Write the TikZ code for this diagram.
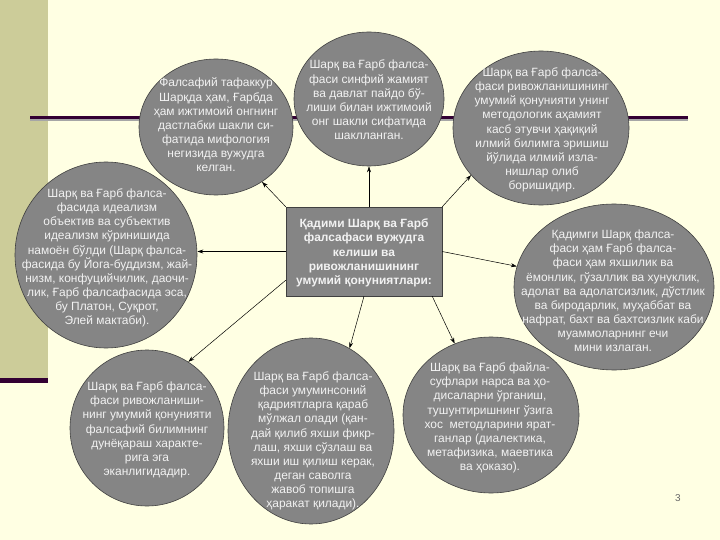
\documentclass[tikz,border=0pt]{standalone}
\usepackage{fontspec}
\setmainfont{Liberation Sans}
\usetikzlibrary{shapes.geometric}
\usetikzlibrary{arrows.meta}

\definecolor{slidebg}{HTML}{FFFFE3}
\definecolor{bandolive}{HTML}{CCCC99}
\definecolor{rulepurple}{HTML}{330033}
\definecolor{ballgray}{HTML}{858585}
\definecolor{balltext}{HTML}{F2F2F2}

\tikzset{
  idea/.style={ellipse, draw=black!75, line width=0.6bp, fill=ballgray, inner sep=0pt},
  ideatext/.style={text=balltext, align=center, inner sep=0pt, font=\fontsize{12}{14.2}\selectfont},
  link/.style={-{Stealth[length=6bp,width=4bp]}, line width=0.5bp, black}
}

\begin{document}
\begin{tikzpicture}[x=1bp, y=-1bp]
      \useasboundingbox (0,0) rectangle (720,540);
      \fill[slidebg] (0,0) rectangle (720,540);
      \fill[bandolive] (0,0) rectangle (48,378);
      \fill[rulepurple] (0,378) rectangle (48,383);
      \fill[black!35] (30,119) rectangle (688,121);
      \fill[rulepurple] (30,116) rectangle (688,119);

      % ellipses
      \node[idea, minimum width=154bp, minimum height=136bp] (tl) at (216,127) {};
      \node[idea, minimum width=150bp, minimum height=134bp] (tc) at (369,99) {};
      \node[idea, minimum width=176bp, minimum height=154bp] (tr) at (541,128) {};
      \node[idea, minimum width=182bp, minimum height=186bp] (ml) at (106,255) {};
      \node[idea, minimum width=200bp, minimum height=166bp] (mr) at (614,287) {};
      \node[idea, minimum width=154bp, minimum height=156bp] (bl) at (147,428) {};
      \node[idea, minimum width=166bp, minimum height=186bp] (bc) at (311,431) {};
      \node[idea, minimum width=176bp, minimum height=156bp] (br) at (491,415) {};
      \draw[black!75, line width=0.6bp, fill=ballgray] (286,207) rectangle (442,296);
      \coordinate (rect) at (364,251.5);
      \node[minimum width=156bp, minimum height=89bp, inner sep=0pt] (laws) at (rect) {};

      % texts
      \node[ideatext] (tltext) at (216,125) {Фалсафий тафаккур\\Шарқда ҳам, Ғарбда\\ҳам ижтимоий онгнинг\\дастлабки шакли си-\\фатида мифология\\негизида вужудга\\келган.};
      \node[ideatext] (tctext) at (369,100) {Шарқ ва Ғарб фалса-\\фаси синфий жамият\\ва давлат пайдо бў-\\лиши билан ижтимоий\\онг шакли сифатида\\шаклланган.};
      \node[ideatext] (trtext) at (542,130) {Шарқ ва Ғарб фалса-\\фаси ривожланишининг\\умумий қонунияти унинг\\методологик аҳамият\\касб этувчи ҳақиқий\\илмий билимга эришиш\\йўлида илмий изла-\\нишлар олиб\\боришидир.};
      \node[ideatext] (mltext) at (107,258) {Шарқ ва Ғарб фалса-\\фасида идеализм\\объектив ва субъектив\\идеализм кўринишида\\намоён бўлди (Шарқ фалса-\\фасида бу Йога-буддизм, жай-\\низм, конфуцийчилик, даочи-\\лик, Ғарб фалсафасида эса,\\бу Платон, Суқрот,\\Элей мактаби).};
      \node[ideatext, font=\fontsize{12}{14.2}\selectfont\bfseries] (lawstext) at (364,253) {Қадими Шарқ ва Ғарб\\фалсафаси вужудга\\келиши ва\\ривожланишининг\\умумий қонуниятлари:};
      \node[ideatext] (mrtext) at (613,291) {Қадимги Шарқ фалса-\\фаси ҳам Ғарб фалса-\\фаси ҳам яхшилик ва\\ёмонлик, гўзаллик ва хунуклик,\\адолат ва адолатсизлик, дўстлик\\ва биродарлик, муҳаббат ва\\нафрат, бахт ва бахтсизлик каби\\муаммоларнинг ечи\\мини излаган.};
      \node[ideatext] (bltext) at (147,430) {Шарқ ва Ғарб фалса-\\фаси ривожланиши-\\нинг умумий қонунияти\\фалсафий билимнинг\\дунёқараш характе-\\рига эга\\эканлигидадир.};
      \node[ideatext] (bctext) at (313,441) {Шарқ ва Ғарб фалса-\\фаси умуминсоний\\қадриятларга қараб\\мўлжал олади (қан-\\дай қилиб яхши фикр-\\лаш, яхши сўзлаш ва\\яхши иш қилиш керак,\\деган саволга\\жавоб топишга\\ҳаракат қилади).};
      \node[ideatext] (brtext) at (490,418) {Шарқ ва Ғарб файла-\\суфлари нарса ва ҳо-\\дисаларни ўрганиш,\\тушунтиришнинг ўзига\\хос\ \ методларини ярат-\\ганлар (диалектика,\\метафизика, маевтика\\ва ҳоказо).};

      % arrows
      \draw[link] (laws.north west) -- (tl.-50);
      \draw[link] (tc.south |- laws.north) -- (tc.south);
      \draw[link] (laws.north east) -- (tr.-146);
      \draw[link] (laws.west) -- (laws.west -| ml.east);
      \draw[link] (laws.east) -- (mr.168);
      \draw[link] ([yshift=16bp]laws.south west) -- (bl.58);
      \draw[link] (laws.south) -- (bc.65);
      \draw[link] ([xshift=-10bp]laws.south east) -- (br.117);

      \node[text=black!60, font=\fontsize{10}{12}\selectfont] (page) at (678,498) {3};
\end{tikzpicture}
\end{document}
